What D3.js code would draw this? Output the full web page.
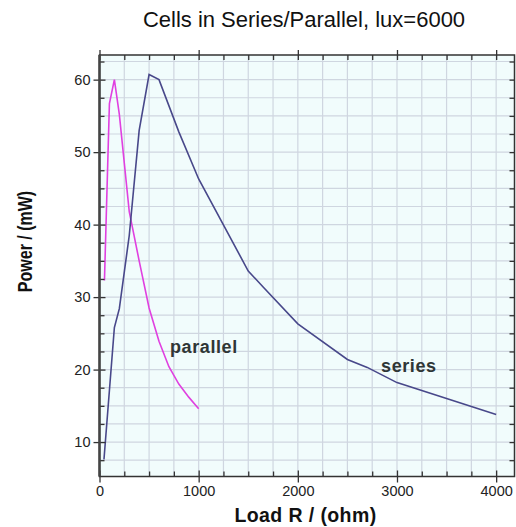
<!DOCTYPE html>
<html>
<head>
<meta charset="utf-8">
<script src="https://cdn.jsdelivr.net/npm/d3@7"></script>
<style>
  body { margin: 0; background: #fff; }
  svg { display: block; font-family: "Liberation Sans", Arial, sans-serif; }
</style>
</head>
<body>
<script>
// Data.
const seriesR = [45, 150, 200, 300, 400, 500, 600, 800, 1000, 1500, 1650, 2000, 2500, 2700, 3000, 4000];
const seriesP = [7.6, 25.8, 28.4, 38.5, 53, 60.7, 60, 52.8, 46.3, 33.6, 31.4, 26.3, 21.4, 20.3, 18.2, 13.8];
const parallelR = [50, 100, 150, 200, 300, 400, 500, 600, 700, 800, 900, 1000];
const parallelP = [32.3, 56.7, 60, 55.2, 41.8, 35, 28.5, 23.9, 20.4, 18, 16.2, 14.6];
const xTicks = [0, 1000, 2000, 3000, 4000];
const yTicks = [10, 20, 30, 40, 50, 60];
const curveLabels = [
  { name: "parallel", r: 711, p: 22.3 },
  { name: "series", r: 2839, p: 19.7 },
];

const width = 516;
const height = 527;
const plot = { left: 99.5, right: 514.5, top: 55, bottom: 476.5 };

const x = d3.scaleLinear().domain([0, 4185]).range([plot.left, plot.right]);
const y = d3.scaleLinear().domain([5.25, 63.4]).range([plot.bottom, plot.top]);

const svg = d3.select("body").append("svg").attr("width", width).attr("height", height);

// Plot background.
svg.append("rect")
  .attr("x", plot.left).attr("y", plot.top)
  .attr("width", plot.right - plot.left).attr("height", plot.bottom - plot.top)
  .attr("fill", "#f1fcfc");

// Grid lines every 250 ohm and 2.5 mW.
const xGrid = d3.range(250, 4185, 250);
const yGrid = d3.range(7.5, 63.4, 2.5);
const grid = svg.append("g").attr("stroke", "#cfd6e0").attr("stroke-width", 1.2);
grid.selectAll(".vx").data(xGrid).join("line")
  .attr("x1", (d) => x(d)).attr("x2", (d) => x(d))
  .attr("y1", plot.top).attr("y2", plot.bottom);
grid.selectAll(".hy").data(yGrid).join("line")
  .attr("x1", plot.left).attr("x2", plot.right)
  .attr("y1", (d) => y(d)).attr("y2", (d) => y(d));

// Curves.
const line = d3.line().x((d) => x(d[0])).y((d) => y(d[1]));
svg.append("path")
  .datum(d3.zip(parallelR, parallelP))
  .attr("d", line).attr("fill", "none")
  .attr("stroke", "#e040e0").attr("stroke-width", 1.6);
svg.append("path")
  .datum(d3.zip(seriesR, seriesP))
  .attr("d", line).attr("fill", "none")
  .attr("stroke", "#48488a").attr("stroke-width", 1.6);

// Axes: major ticks cross the frame, minor ticks point inward.
const minorX = xGrid.filter((d) => d % 1000 !== 0);
const minorY = yGrid.filter((d) => d % 10 !== 0);
const axisColor = "#333";
const fmt = d3.format("d");

function styleAxis(g, labels) {
  g.select(".domain").remove();
  g.selectAll(".tick line").attr("stroke", axisColor).attr("stroke-width", 1.3);
  g.selectAll(".tick text")
    .attr("fill", "#222")
    .attr("font-size", 14.5)
    .attr("font-family", "'Liberation Sans', Arial, sans-serif");
  if (!labels) g.selectAll(".tick text").remove();
}

// Bottom.
svg.append("g").attr("transform", `translate(0,${plot.bottom})`)
  .call(d3.axisBottom(x).tickValues(xTicks).tickFormat(fmt).tickSize(6).tickPadding(3))
  .call((g) => styleAxis(g, true));
svg.append("g").attr("transform", `translate(0,${plot.bottom})`)
  .call(d3.axisTop(x).tickValues(xTicks).tickSize(6))
  .call((g) => styleAxis(g, false));
svg.append("g").attr("transform", `translate(0,${plot.bottom})`)
  .call(d3.axisTop(x).tickValues(minorX).tickSize(5))
  .call((g) => styleAxis(g, false));

// Top.
svg.append("g").attr("transform", `translate(0,${plot.top})`)
  .call(d3.axisTop(x).tickValues(xTicks).tickSize(5))
  .call((g) => styleAxis(g, false));
svg.append("g").attr("transform", `translate(0,${plot.top})`)
  .call(d3.axisBottom(x).tickValues(d3.range(0, 4185, 250)).tickSize(5))
  .call((g) => styleAxis(g, false));

// Left.
svg.append("g").attr("transform", `translate(${plot.left},0)`)
  .call(d3.axisLeft(y).tickValues(yTicks).tickFormat(fmt).tickSize(6).tickPadding(3))
  .call((g) => styleAxis(g, true));
svg.append("g").attr("transform", `translate(${plot.left},0)`)
  .call(d3.axisRight(y).tickValues(yTicks).tickSize(6))
  .call((g) => styleAxis(g, false));
svg.append("g").attr("transform", `translate(${plot.left},0)`)
  .call(d3.axisRight(y).tickValues(minorY).tickSize(5))
  .call((g) => styleAxis(g, false));

// Right.
svg.append("g").attr("transform", `translate(${plot.right},0)`)
  .call(d3.axisLeft(y).tickValues(yGrid).tickSize(5))
  .call((g) => styleAxis(g, false));

// Frame.
svg.append("rect")
  .attr("x", plot.left).attr("y", plot.top)
  .attr("width", plot.right - plot.left).attr("height", plot.bottom - plot.top)
  .attr("fill", "none").attr("stroke", axisColor).attr("stroke-width", 1.5);
svg.append("line")
  .attr("x1", plot.left).attr("x2", plot.left)
  .attr("y1", plot.top).attr("y2", plot.bottom)
  .attr("stroke", "#444").attr("stroke-width", 2.5);

// Curve labels.
svg.selectAll(".curve-label").data(curveLabels).join("text")
  .attr("x", (d) => x(d.r)).attr("y", (d) => y(d.p))
  .attr("font-size", 18).attr("font-weight", "bold")
  .attr("letter-spacing", 0.6)
  .attr("fill", "#2f3636")
  .text((d) => d.name);

// Title.
svg.append("text")
  .attr("x", 304).attr("y", 27)
  .attr("text-anchor", "middle")
  .attr("font-size", 22).attr("fill", "#111")
  .text("Cells in Series/Parallel, lux=6000");

// Axis titles.
svg.append("text")
  .attr("x", 305.5).attr("y", 521.5)
  .attr("text-anchor", "middle")
  .attr("font-size", 19.5).attr("font-weight", "bold")
  .attr("letter-spacing", 0.4)
  .attr("fill", "#111")
  .text("Load R / (ohm)");
svg.append("text")
  .attr("transform", "translate(31.5,241.5) rotate(-90) scale(1,1.25)")
  .attr("text-anchor", "middle")
  .attr("font-size", 16).attr("font-weight", "bold")
  .attr("fill", "#111")
  .text("Power / (mW)");
</script>
</body>
</html>
